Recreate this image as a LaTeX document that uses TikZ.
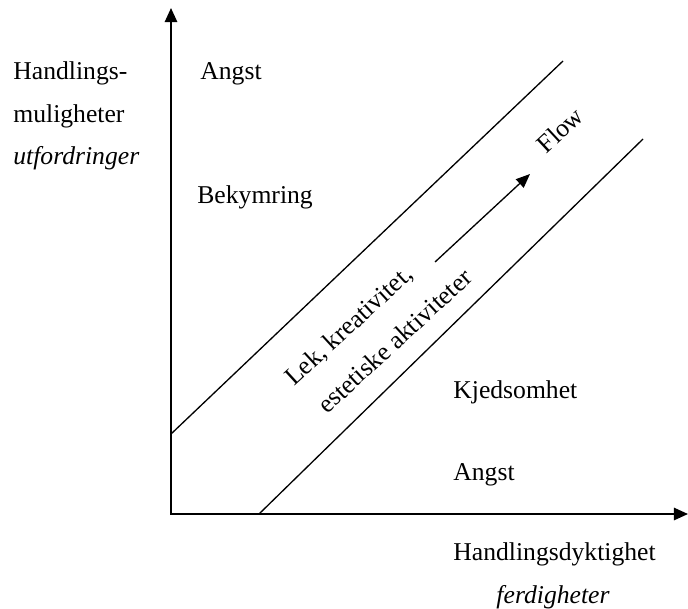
\documentclass[tikz,border=0pt]{standalone}
\usepackage{fontspec}
\setmainfont{Liberation Serif}
\usetikzlibrary{arrows.meta}

\begin{document}
\begin{tikzpicture}[x=0.02cm,y=-0.02cm,
  lbl/.style={font=\fontsize{14.6}{24.4}\selectfont,inner sep=0pt},
  axis/.style={line width=1.1pt,{Triangle[length=8pt,width=7pt]}-{Triangle[length=8pt,width=7pt]}},
  band/.style={line width=0.75pt}]
  \useasboundingbox (0,0) rectangle (688,608);
  % axes
  \coordinate (ytop) at (171,8);
  \coordinate (o) at (171,514);
  \coordinate (xend) at (688,514);
  \draw[axis] (ytop) -- (o) -- (xend);
  % flow channel
  \coordinate (a1) at (171,434);
  \coordinate (a2) at (563,61);
  \coordinate (b1) at (259,514);
  \coordinate (b2) at (643,139);
  \draw[band] (a1) -- (a2);
  \draw[band] (b1) -- (b2);
  \coordinate (p1) at (435,262);
  \coordinate (p2) at (530,174);
  \draw[band,-{Triangle[length=8pt,width=6.5pt]}] (p1) -- (p2);
  % labels
  \node[lbl,anchor=base west] (ylab1) at (13,79) {Handlings-};
  \node[lbl,anchor=base west] (ylab2) at (13,122) {muligheter};
  \node[lbl,anchor=base west] (ylab3) at (13,164) {\itshape utfordringer};
  \node[lbl,anchor=base west] (angst1) at (200,79) {Angst};
  \node[lbl,anchor=base west] (bekym) at (197,203) {Bekymring};
  \node[lbl,anchor=base west] (kjed) at (453,398) {Kjedsomhet};
  \node[lbl,anchor=base west] (angst2) at (453,480) {Angst};
  \node[lbl,anchor=base west] (xlab1) at (453,560) {Handlingsdyktighet};
  \node[lbl,anchor=base] (xlab2) at (553,603) {\itshape ferdigheter};
  \node[lbl,rotate=43] (flow) at (560,130) {Flow};
  \node[lbl,rotate=42.5,align=left] (lek) at (378,327)
    {Lek, kreativitet,\\\hspace*{3.3pt}estetiske aktiviteter};
\end{tikzpicture}
\end{document}
